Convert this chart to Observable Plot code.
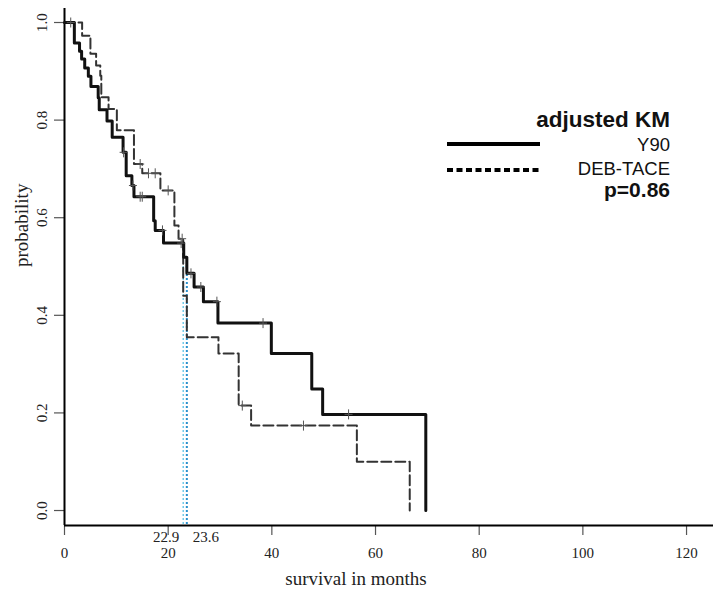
<!DOCTYPE html>
<html>
<head>
<meta charset="utf-8">
<script src="https://cdn.jsdelivr.net/npm/d3@7"></script>
<script src="https://cdn.jsdelivr.net/npm/@observablehq/plot@0.6"></script>
<style>
  html, body { margin: 0; padding: 0; background: #fff; }
  #wrap { position: relative; width: 724px; height: 591px; overflow: hidden; }
  #legend { position: absolute; left: 0; top: 0; pointer-events: none; }
</style>
</head>
<body>
<div id="wrap"></div>
<script>
// ---- data ----
// Y90 Kaplan-Meier steps (month, survival)
const y90Time = [0, 1.9, 2.9, 3.3, 3.9, 4.6, 5.1, 6.5, 6.7, 8.2, 9.2, 11.3, 11.9, 13.0, 13.4, 17.2, 17.5, 19.1, 23.0, 23.6, 25.0, 26.8, 29.6, 39.9, 47.7, 49.8, 69.7];
const y90Surv = [1.0, 0.958, 0.941, 0.925, 0.907, 0.890, 0.869, 0.846, 0.821, 0.798, 0.765, 0.734, 0.686, 0.666, 0.643, 0.594, 0.574, 0.548, 0.519, 0.486, 0.458, 0.428, 0.384, 0.322, 0.249, 0.197, 0.0];
// Y90 censored observations
const y90CensTime = [1.2, 11.4, 13.2, 14.6, 15.0, 18.9, 22.5, 24.4, 26.3, 29.4, 38.3, 54.8];
const y90CensSurv = [1.0, 0.734, 0.666, 0.643, 0.643, 0.574, 0.548, 0.486, 0.458, 0.428, 0.384, 0.197];

// DEB-TACE Kaplan-Meier steps
const debTime = [0, 3.4, 5.0, 6.1, 6.9, 7.1, 8.5, 10.1, 13.4, 15.0, 18.5, 21.2, 22.0, 22.9, 23.6, 29.7, 33.6, 36.0, 56.4, 66.6];
const debSurv = [1.0, 0.973, 0.936, 0.912, 0.891, 0.847, 0.823, 0.779, 0.710, 0.691, 0.656, 0.584, 0.557, 0.440, 0.355, 0.322, 0.215, 0.174, 0.100, 0.0];
const debCensTime = [14.6, 16.2, 17.5, 20.0, 22.7, 34.3, 46.1];
const debCensSurv = [0.710, 0.691, 0.691, 0.656, 0.557, 0.215, 0.174];

// medians
const medianValues = [22.9, 23.6];
const medianLabels = ["22.9", "23.6"];

// axis ticks
const xTicks = [0, 20, 40, 60, 80, 100, 120];
const yTicks = [0, 0.2, 0.4, 0.6, 0.8, 1.0];

// legend
const legendTitle = "adjusted KM";
const seriesNames = ["Y90", "DEB-TACE"];
const pLabel = "p=0.86";
const xLabel = "survival in months";
const yLabel = "probability";

// ---- build tables ----
const y90 = y90Time.map((t, i) => ({t, s: y90Surv[i]}));
const deb = debTime.map((t, i) => ({t, s: debSurv[i]}));
const cens = [
  ...y90CensTime.map((t, i) => ({t, s: y90CensSurv[i]})),
  ...debCensTime.map((t, i) => ({t, s: debCensSurv[i]}))
];
const medians = medianValues.map((m, i) => ({m, label: medianLabels[i], i}));

const yMin = -0.0307, yMax = 1.0287, xMax = 125.2;

const plusSymbol = {
  draw(ctx, size) {
    const r = Math.sqrt(size / Math.PI);
    ctx.moveTo(0, -r); ctx.lineTo(0, r);
    ctx.moveTo(-r * 0.8, 0); ctx.lineTo(r * 0.8, 0);
  }
};

const chart = Plot.plot({
  width: 724,
  height: 591,
  marginTop: 8,
  marginBottom: 66,
  marginLeft: 64,
  marginRight: 11,
  x: {domain: [0, xMax]},
  y: {domain: [yMin, yMax]},
  style: {fontFamily: "'Liberation Serif', 'DejaVu Serif', serif", fontSize: "15px", color: "#222", background: "#fff", overflow: "visible"},
  marks: [
    Plot.axisX({ticks: xTicks, tickSize: 10, tickPadding: 12, label: null, stroke: "#555", strokeWidth: 1.2}),
    Plot.axisY({ticks: yTicks, tickSize: 10, tickRotate: -90, tickPadding: 8, tickFormat: d3.format(".1f"), label: null, stroke: "#555", strokeWidth: 1.2}),
    Plot.ruleX([0], {stroke: "#000", strokeWidth: 2}),
    Plot.ruleY([yMin], {stroke: "#000", strokeWidth: 2.2}),
    // median lines
    Plot.ruleX(medians.filter(d => d.i === 0), {x: "m", y1: 0.5, y2: yMin, stroke: "#5cc3e6", strokeWidth: 1.3, strokeDasharray: "2,2"}),
    Plot.ruleX(medians.filter(d => d.i === 1), {x: "m", y1: 0.5, y2: yMin, stroke: "#2a90cc", strokeWidth: 2, strokeDasharray: "2,2"}),
    Plot.text(medians.filter(d => d.i === 0), {x: "m", text: "label", frameAnchor: "bottom", lineAnchor: "middle", dy: 12, textAnchor: "end", dx: -4, fontSize: 15, fill: "#222"}),
    Plot.text(medians.filter(d => d.i === 1), {x: "m", text: "label", frameAnchor: "bottom", lineAnchor: "middle", dy: 12, textAnchor: "start", dx: 6, fontSize: 15, fill: "#222"}),
    // curves
    Plot.line(deb, {x: "t", y: "s", curve: "step-after", stroke: "#333", strokeWidth: 2, strokeDasharray: "10,4"}),
    Plot.line(y90, {x: "t", y: "s", curve: "step-after", stroke: "#111", strokeWidth: 3}),
    Plot.dot(cens, {x: "t", y: "s", symbol: plusSymbol, r: 5, stroke: "#555", strokeWidth: 1, fill: "none"}),
    // axis titles
    Plot.text([xLabel], {frameAnchor: "bottom", lineAnchor: "middle", dx: -33, dy: 53, fontSize: 19, fill: "#222"}),
    Plot.text([yLabel], {frameAnchor: "left", dx: -43, rotate: -90, fontSize: 19, fill: "#222"})
  ]
});

const wrap = document.getElementById("wrap");
wrap.appendChild(chart);

// legend overlay
const ns = "http://www.w3.org/2000/svg";
const leg = document.createElementNS(ns, "svg");
leg.setAttribute("id", "legend");
leg.setAttribute("width", 724);
leg.setAttribute("height", 591);
const legRows = [
  {text: legendTitle, y: 127, size: 22.5, weight: "bold"},
  {text: seriesNames[0], y: 151, size: 18.5, weight: "normal", line: 144, dash: null},
  {text: seriesNames[1], y: 175, size: 18.5, weight: "normal", line: 170, dash: "6,3.5"},
  {text: pLabel, y: 197, size: 21, weight: "bold"}
];
for (const r of legRows) {
  const t = document.createElementNS(ns, "text");
  t.setAttribute("x", 670);
  t.setAttribute("y", r.y);
  t.setAttribute("text-anchor", "end");
  t.setAttribute("font-family", "'Liberation Sans', Arial, sans-serif");
  t.setAttribute("font-size", r.size);
  t.setAttribute("font-weight", r.weight);
  t.setAttribute("fill", "#111");
  t.textContent = r.text;
  leg.appendChild(t);
  if (r.line !== undefined) {
    const l = document.createElementNS(ns, "line");
    l.setAttribute("x1", 447); l.setAttribute("x2", 540);
    l.setAttribute("y1", r.line); l.setAttribute("y2", r.line);
    l.setAttribute("stroke", "#000");
    l.setAttribute("stroke-width", 4);
    if (r.dash) l.setAttribute("stroke-dasharray", r.dash);
    leg.appendChild(l);
  }
}
wrap.appendChild(leg);
</script>
</body>
</html>
